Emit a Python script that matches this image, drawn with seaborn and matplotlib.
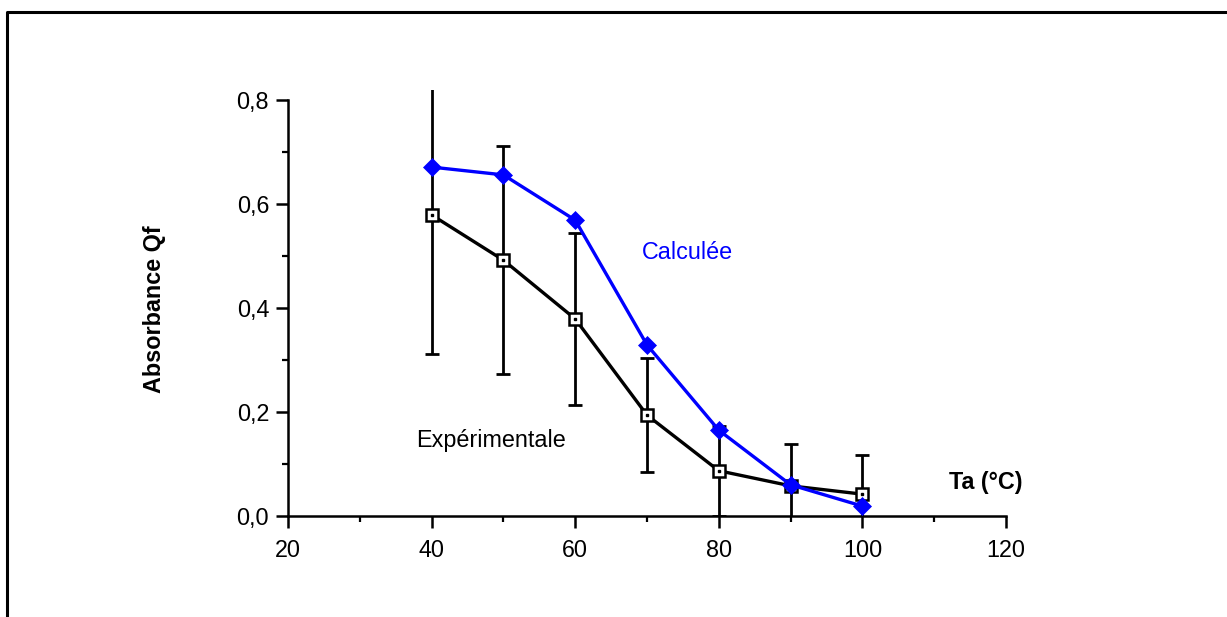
import matplotlib
matplotlib.use("Agg")
import matplotlib.pyplot as plt
from matplotlib.lines import Line2D
import seaborn as sns
import pandas as pd

# Temperature (°C)
temperature = [40, 50, 60, 70, 80, 90, 100]
# Absorbance Qf, computed model
calculee = [0.671, 0.656, 0.569, 0.329, 0.165, 0.060, 0.019]
# Absorbance Qf, measured, with error half-widths
experimentale = [0.579, 0.492, 0.379, 0.194, 0.087, 0.058, 0.042]
erreur = [0.267, 0.219, 0.166, 0.109, 0.087, 0.080, 0.075]

x_ticks = [20, 40, 60, 80, 100, 120]
x_tick_labels = ["20", "40", "60", "80", "100", "120"]
y_ticks = [0.0, 0.2, 0.4, 0.6, 0.8]
y_tick_labels = ["0,0", "0,2", "0,4", "0,6", "0,8"]

sns.set_theme(style="white")
plt.rcParams["font.family"] = ["Liberation Sans", "DejaVu Sans"]

FS = 16.8
W, H = 1227, 617
fig = plt.figure(figsize=(W / 100, H / 100), dpi=100)
ax = fig.add_axes([288 / W, 1 - 516 / H, (1006 - 288) / W, (516 - 89.6) / H])

df_calc = pd.DataFrame({"T": temperature, "Q": calculee})
df_exp = pd.DataFrame({"T": temperature, "Q": experimentale})

# experimental error bars, behind the markers
ax.errorbar(temperature, experimentale, yerr=erreur, fmt="none",
            ecolor="black", elinewidth=2.0, capsize=4.8, capthick=2.0,
            zorder=2)

# experimental curve: hollow squares with a centre dot
sns.lineplot(data=df_exp, x="T", y="Q", ax=ax, color="black", lw=2.4,
             marker="s", markersize=8.5, markerfacecolor="white",
             markeredgecolor="black", markeredgewidth=1.8, zorder=3)
ax.plot(temperature, experimentale, ls="none", marker="s", markersize=2.0,
        color="black", zorder=3.5)

# computed curve
sns.lineplot(data=df_calc, x="T", y="Q", ax=ax, color="#0000ff", lw=2.4,
             marker="D", markersize=9.5, markeredgecolor="#0000ff",
             markeredgewidth=0.5, zorder=4)

ax.set_xlim(20, 120)
ax.set_ylim(0, 0.82)
ax.set_xticks(x_ticks)
ax.set_xticklabels(x_tick_labels)
ax.set_xticks([30, 50, 70, 90, 110], minor=True)
ax.set_yticks(y_ticks)
ax.set_yticklabels(y_tick_labels)
ax.set_yticks([0.1, 0.3, 0.5, 0.7], minor=True)

for s in ["top", "right"]:
    ax.spines[s].set_visible(False)
for s in ["left", "bottom"]:
    ax.spines[s].set_color("black")
    ax.spines[s].set_linewidth(1.8)
ax.spines["left"].set_bounds(0, 0.8)

ax.tick_params(axis="both", which="major", direction="out", length=8.6,
               width=1.8, color="black", labelsize=FS, labelcolor="black",
               pad=5, left=True, bottom=True)
ax.tick_params(axis="x", which="major", pad=8)
ax.tick_params(axis="both", which="minor", direction="out", length=4.5,
               width=1.6, color="black", left=True, bottom=True)
ax.grid(False)

ax.set_xlabel("")
ax.set_ylabel("Absorbance Qf", fontsize=FS, fontweight="bold", color="black")
ax.yaxis.set_label_coords(-0.170, 0.485)

ax.text(69.3, 0.506, "Calculée", color="#0000ff", fontsize=FS,
        ha="left", va="center")
ax.text(37.8, 0.146, "Expérimentale", color="black", fontsize=FS,
        ha="left", va="center")
ax.text(112.1, 0.064, "Ta (°C)", color="black", fontsize=FS,
        fontweight="bold", ha="left", va="center")

# open frame along the top and left edges
x0 = 7 / W
y0 = 1 - 12 / H
fig.add_artist(Line2D([x0, x0, 1.0], [0.0, y0, y0], color="black",
                      lw=2.2, transform=fig.transFigure))

fig.savefig("out.png", dpi=100, facecolor="white")
